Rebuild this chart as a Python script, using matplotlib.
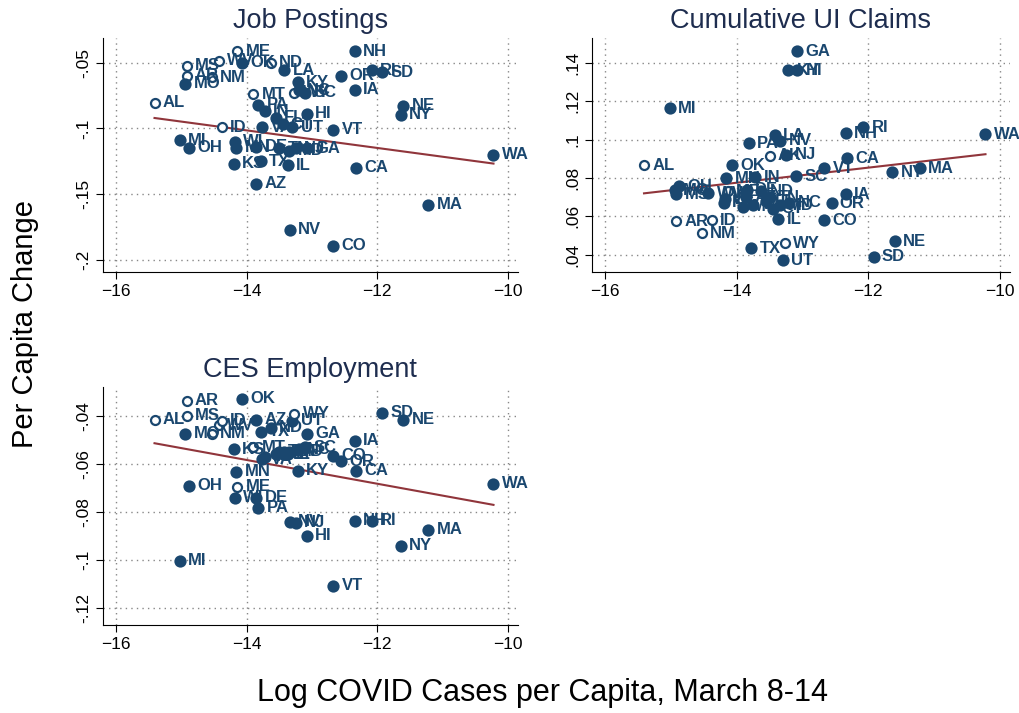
import numpy as np
import matplotlib
import matplotlib.pyplot as plt

matplotlib.use('Agg')
plt.rcParams['font.family'] = ['Liberation Sans', 'DejaVu Sans']

# state, log covid cases per capita (x), job postings, cumulative UI claims, CES employment
states = ['AL', 'MI', 'OH', 'MS', 'AR', 'MO', 'NM', 'WV', 'ID', 'ME', 'KS', 'WI', 'MN', 'OK',
          'MT', 'AZ', 'DE', 'PA', 'VA', 'TX', 'IN', 'FL', 'ND', 'LA', 'IL', 'MD', 'NV', 'UT',
          'WY', 'NJ', 'KY', 'NC', 'SC', 'GA', 'HI', 'TN', 'CT', 'AK', 'CO', 'VT', 'OR', 'IA',
          'CA', 'NH', 'RI', 'SD', 'NE', 'NY', 'MA', 'WA']
log_cases = [-15.41, -15.02, -14.88, -14.92, -14.92, -14.94, -14.53, -14.43, -14.38, -14.14,
             -14.20, -14.18, -14.16, -14.07, -13.90, -13.86, -13.85, -13.82, -13.76, -13.78,
             -13.72, -13.55, -13.63, -13.42, -13.37, -13.35, -13.34, -13.30, -13.27, -13.25,
             -13.22, -13.20, -13.10, -13.08, -13.08, -13.50, -13.45, -13.50, -12.68, -12.67,
             -12.56, -12.34, -12.32, -12.34, -12.08, -11.92, -11.60, -11.64, -11.22, -10.22]
job_postings = [-0.0804, -0.109, -0.1145, -0.0523, -0.060, -0.066, -0.061, -0.0485, -0.099, -0.0415,
                -0.127, -0.110, -0.1145, -0.050, -0.074, -0.142, -0.114, -0.082, -0.099, -0.125,
                -0.087, -0.092, -0.050, -0.056, -0.128, -0.117, -0.177, -0.099, -0.073, -0.115,
                -0.065, -0.071, -0.073, -0.115, -0.089, -0.115, -0.097, np.nan, -0.189, -0.101,
                -0.060, -0.0705, -0.130, -0.0415, -0.056, -0.0575, -0.083, -0.0895, -0.158, -0.120]
ui_claims = [0.0867, 0.1164, 0.0758, 0.0716, 0.0575, 0.0736, 0.0511, 0.072, 0.058, 0.073,
             0.067, 0.069, 0.080, 0.0867, 0.065, 0.070, 0.074, 0.0982, 0.066, 0.0435,
             0.0804, 0.068, 0.073, 0.1024, 0.0585, 0.0658, 0.0993, 0.037, 0.046, 0.092,
             0.1362, 0.067, 0.081, 0.1461, 0.1362, 0.070, 0.064, 0.0915, 0.058, 0.0852,
             0.0669, 0.0716, 0.0904, 0.1034, 0.1065, 0.039, 0.047, 0.0831, 0.0852, 0.1029]
ces_employment = [-0.0417, -0.1004, -0.0692, -0.040, -0.0337, -0.0475, -0.0475, -0.044, -0.042, -0.0696,
                  -0.054, -0.0742, -0.0633, -0.0329, -0.053, -0.0417, -0.0742, -0.0783, -0.058, -0.0467,
                  -0.057, -0.056, -0.045, -0.055, -0.056, -0.055, -0.0842, -0.042, -0.0392, -0.0845,
                  -0.0629, -0.054, -0.053, -0.0475, -0.090, -0.055, -0.056, np.nan, -0.0567, -0.1108,
                  -0.059, -0.0504, -0.0629, -0.0838, -0.0838, -0.0387, -0.0417, -0.0942, -0.0875, -0.0683]

hollow_jobs = ['AL', 'MS', 'AR', 'NM', 'WV', 'ID', 'ME', 'MT', 'ND', 'WY']
hollow_ui = ['AL', 'AR', 'NM', 'ID', 'ME', 'WY', 'AK']
hollow_ces = ['AL', 'MS', 'AR', 'NM', 'WV', 'ID', 'ME', 'MT', 'WY']

# fitted line values at the lowest and highest x
fit_jobs = [-0.0921, -0.1267]
fit_ui = [0.0720, 0.0924]
fit_ces = [-0.0514, -0.0771]

navy = '#1a476f'
maroon = '#90353b'


def draw_panel(ax, x, y, hollow, fit, title, yticks, yticklabels, ylim):
    x = np.array(x)
    y = np.array(y)
    ok = ~np.isnan(y)
    for st, xi, yi in zip(states, x, y):
        if np.isnan(yi):
            continue
        if st in hollow:
            ax.scatter(xi, yi, s=42, facecolor='white', edgecolor=navy, linewidth=1.6, zorder=3,
                       clip_on=False)
        else:
            ax.scatter(xi, yi, s=78, color=navy, linewidth=0, zorder=3, clip_on=False)
        ax.annotate(st, (xi, yi), xytext=(6, 0), textcoords='offset points', va='center',
                    ha='left', fontsize=12, fontweight='bold', color=navy, zorder=4)
    xs = [x[ok].min(), x[ok].max()]
    ax.plot(xs, fit, color=maroon, linewidth=1.5, zorder=2)
    ax.set_title(title, fontsize=19.5, color='#1e2d4f', pad=7)
    ax.set_xlim(-16.2, -9.85)
    ax.set_ylim(*ylim)
    ax.set_xticks([-16, -14, -12, -10])
    ax.set_yticks(yticks, yticklabels, rotation=90, va='center')
    ax.tick_params(axis='both', labelsize=12.5, length=5, direction='out')
    ax.grid(True, linestyle=(0, (1, 3)), color='#888888', linewidth=1)
    ax.spines['top'].set_visible(False)
    ax.spines['right'].set_visible(False)


fig = plt.figure(figsize=(10.19, 7.13), dpi=100)
ax1 = fig.add_axes([0.101, 0.6185, 0.407, 0.328])
ax2 = fig.add_axes([0.581, 0.6185, 0.410, 0.328])
ax3 = fig.add_axes([0.101, 0.1234, 0.407, 0.334])

draw_panel(ax1, log_cases, job_postings, hollow_jobs, fit_jobs, 'Job Postings',
           [-0.2, -0.15, -0.1, -0.05], ['-.2', '-.15', '-.1', '-.05'], (-0.209, -0.0315))
draw_panel(ax2, log_cases, ui_claims, hollow_ui, fit_ui, 'Cumulative UI Claims',
           [0.04, 0.06, 0.08, 0.1, 0.12, 0.14], ['.04', '.06', '.08', '.1', '.12', '.14'], (0.031, 0.1529))
draw_panel(ax3, log_cases, ces_employment, hollow_ces, fit_ces, 'CES Employment',
           [-0.12, -0.1, -0.08, -0.06, -0.04], ['-.12', '-.1', '-.08', '-.06', '-.04'], (-0.1272, -0.0279))

fig.text(0.025, 0.545, 'Per Capita Change', rotation=90, ha='center', va='center', fontsize=21)
fig.text(0.532, 0.028, 'Log COVID Cases per Capita, March 8-14', ha='center', va='center', fontsize=22)

fig.savefig('out.png', dpi=100)
